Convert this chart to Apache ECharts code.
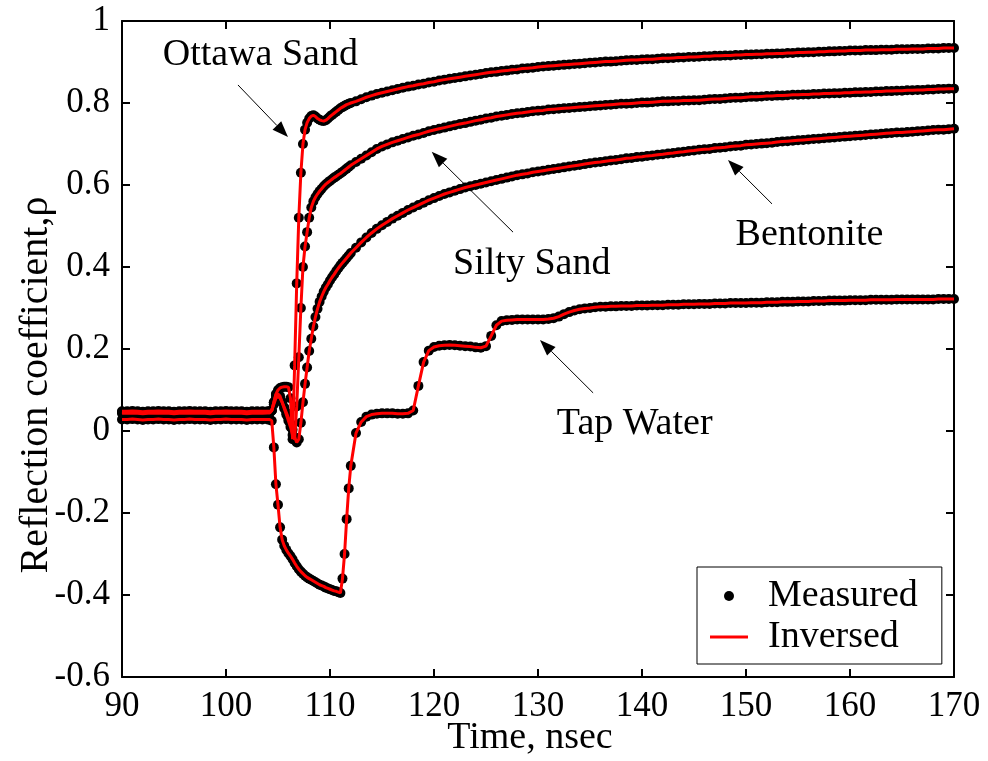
<!DOCTYPE html>
<html><head><meta charset="utf-8">
<script src="https://cdn.jsdelivr.net/npm/echarts@6/dist/echarts.min.js"></script>
<style>html,body{margin:0;padding:0;background:#fff}#c{width:988px;height:761px}</style>
</head><body><div id="c"></div>
<script>
// ---- sampling times (ns) ----
const timeA = [90,90.5,91,91.5,92,92.5,93,93.5,94,94.5,95,95.5,96,96.5,97,97.5,98,98.5,99,99.5,100,100.5,101,101.5,102,102.5,103,103.5,104];
const timeB = [104.2,104.4,104.6,104.8,105,105.2,105.4,105.6,105.8,106,
  106.2,106.4,106.6,106.8,107,107.2,107.4,107.6,107.8,108,
  108.2,108.4,108.6,108.8,109,109.2,109.4,109.6,109.8,110,
  110.2,110.4,110.6,110.8,111,111.2,111.4,111.6,111.8,112];
const timeC = [112.5,113,113.5,114,114.5,115,115.5,116,116.5,117,
  117.5,118,118.5,119,119.5,120,120.5,121,121.5,122,
  122.5,123,123.5,124,124.5,125,125.5,126,126.5,127,
  127.5,128,128.5,129,129.5,130,130.5,131,131.5,132,
  132.5,133,133.5,134,134.5,135,135.5,136,136.5,137,
  137.5,138,138.5,139,139.5,140,140.5,141,141.5,142,
  142.5,143,143.5,144,144.5,145,145.5,146,146.5,147,
  147.5,148,148.5,149,149.5,150,150.5,151,151.5,152,
  152.5,153,153.5,154,154.5,155,155.5,156,156.5,157,
  157.5,158,158.5,159,159.5,160,160.5,161,161.5,162,
  162.5,163,163.5,164,164.5,165,165.5,166,166.5,167,
  167.5,168,168.5,169,169.5,170];
const time = timeA.concat(timeB, timeC);

// ---- reflection coefficient values ----
const ottawaSand = [
  0.048,0.048,0.049,0.048,0.047,0.048,0.048,0.049,0.048,0.048,
  0.047,0.048,0.048,0.049,0.048,0.048,0.048,0.047,0.048,0.048,
  0.049,0.048,0.048,0.048,0.047,0.048,0.048,0.048,0.048,
  0.048,0.050,0.070,0.090,0.100,0.105,0.107,0.108,0.108,0.107,
  0.080,-0.020,0.160,0.360,0.520,0.630,0.700,0.735,0.752,0.762,
  0.768,0.770,0.767,0.762,0.759,0.757,0.756,0.758,0.762,0.767,
  0.771,0.775,0.779,0.783,0.787,0.790,0.793,0.796,0.798,0.800,
  0.804,0.809,0.814,0.818,0.822,0.825,0.828,0.831,0.834,0.837,
  0.840,0.842,0.845,0.847,0.850,0.852,0.855,0.857,0.859,0.861,
  0.863,0.865,0.867,0.869,0.871,0.873,0.875,0.876,0.878,0.879,
  0.881,0.882,0.884,0.885,0.886,0.888,0.889,0.890,0.891,0.892,
  0.893,0.894,0.895,0.896,0.897,0.898,0.899,0.900,0.901,0.901,
  0.902,0.903,0.904,0.905,0.905,0.906,0.907,0.907,0.908,0.909,
  0.909,0.910,0.911,0.911,0.912,0.912,0.913,0.914,0.914,0.915,
  0.915,0.916,0.916,0.917,0.917,0.918,0.918,0.919,0.919,0.920,
  0.920,0.921,0.921,0.922,0.922,0.923,0.923,0.924,0.924,0.925,
  0.925,0.926,0.926,0.927,0.927,0.928,0.928,0.928,0.929,0.929,
  0.929,0.930,0.930,0.930,0.931,0.931,0.931,0.932,0.932,0.932,
  0.933,0.933,0.933,0.934,0.934,0.934];
const siltySand = [
  0.046,0.045,0.046,0.046,0.045,0.046,0.046,0.045,0.046,0.046,
  0.045,0.046,0.046,0.046,0.045,0.046,0.046,0.045,0.046,0.046,
  0.046,0.045,0.046,0.046,0.045,0.046,0.046,0.046,0.046,
  0.046,0.050,0.070,0.088,0.090,0.085,0.070,0.055,0.040,0.025,
  0.010,-0.010,-0.020,0.060,0.180,0.300,0.400,0.450,0.485,0.520,
  0.545,0.560,0.570,0.578,0.585,0.591,0.597,0.602,0.606,0.610,
  0.614,0.618,0.621,0.625,0.628,0.632,0.636,0.640,0.644,0.648,
  0.656,0.664,0.672,0.680,0.688,0.694,0.699,0.704,0.708,0.712,
  0.716,0.720,0.723,0.727,0.731,0.734,0.737,0.740,0.743,0.746,
  0.749,0.751,0.754,0.757,0.759,0.762,0.764,0.767,0.769,0.771,
  0.773,0.775,0.776,0.778,0.780,0.781,0.782,0.784,0.785,0.786,
  0.787,0.788,0.789,0.790,0.791,0.792,0.793,0.794,0.795,0.796,
  0.797,0.798,0.798,0.799,0.800,0.801,0.801,0.802,0.803,0.804,
  0.804,0.805,0.805,0.806,0.806,0.807,0.807,0.808,0.809,0.810,
  0.810,0.811,0.812,0.813,0.813,0.814,0.815,0.815,0.816,0.817,
  0.817,0.818,0.818,0.819,0.820,0.820,0.821,0.821,0.822,0.822,
  0.823,0.823,0.824,0.824,0.825,0.825,0.826,0.826,0.827,0.827,
  0.828,0.828,0.829,0.829,0.830,0.830,0.831,0.831,0.832,0.832,
  0.833,0.833,0.834,0.834,0.835,0.835];
const bentonite = [
  0.043,0.044,0.043,0.043,0.042,0.043,0.044,0.043,0.043,0.043,
  0.042,0.043,0.043,0.044,0.043,0.043,0.043,0.042,0.043,0.043,
  0.044,0.043,0.043,0.043,0.042,0.043,0.043,0.043,0.044,
  0.044,0.050,0.065,0.080,0.085,0.080,0.070,0.058,0.045,0.032,
  0.018,0.003,-0.015,-0.028,-0.020,0.020,0.070,0.115,0.155,0.195,
  0.225,0.255,0.278,0.298,0.315,0.328,0.340,0.350,0.358,0.367,
  0.375,0.382,0.390,0.397,0.404,0.410,0.416,0.422,0.428,0.434,
  0.447,0.460,0.472,0.483,0.493,0.502,0.510,0.518,0.525,0.532,
  0.539,0.545,0.551,0.557,0.563,0.568,0.573,0.578,0.582,0.586,
  0.590,0.594,0.597,0.600,0.603,0.606,0.609,0.612,0.615,0.618,
  0.621,0.624,0.626,0.628,0.631,0.633,0.635,0.637,0.639,0.641,
  0.643,0.645,0.647,0.649,0.651,0.653,0.655,0.656,0.658,0.660,
  0.661,0.663,0.665,0.666,0.668,0.669,0.671,0.672,0.674,0.675,
  0.677,0.678,0.680,0.681,0.683,0.684,0.686,0.687,0.688,0.690,
  0.691,0.692,0.694,0.695,0.696,0.698,0.699,0.700,0.701,0.702,
  0.703,0.705,0.706,0.707,0.708,0.709,0.710,0.711,0.712,0.713,
  0.714,0.715,0.716,0.717,0.718,0.719,0.720,0.721,0.722,0.723,
  0.724,0.725,0.726,0.727,0.728,0.728,0.729,0.730,0.731,0.732,
  0.733,0.734,0.735,0.735,0.736,0.737];
const tapWater = [
  0.028,0.028,0.029,0.028,0.027,0.028,0.028,0.029,0.028,0.028,
  0.027,0.028,0.028,0.029,0.028,0.028,0.028,0.027,0.028,0.028,
  0.029,0.028,0.028,0.028,0.027,0.028,0.028,0.028,0.028,
  0.028,0.025,-0.040,-0.130,-0.180,-0.235,-0.265,-0.280,-0.290,-0.298,
  -0.305,-0.313,-0.322,-0.330,-0.337,-0.343,-0.348,-0.353,-0.357,-0.360,
  -0.363,-0.366,-0.369,-0.372,-0.375,-0.377,-0.379,-0.382,-0.384,-0.386,
  -0.388,-0.390,-0.391,-0.393,-0.395,-0.360,-0.300,-0.215,-0.140,-0.085,
  -0.005,0.022,0.035,0.040,0.042,0.043,0.043,0.043,0.042,0.042,
  0.043,0.050,0.110,0.168,0.196,0.205,0.208,0.209,0.210,0.209,
  0.208,0.207,0.206,0.204,0.203,0.207,0.232,0.258,0.268,0.270,
  0.271,0.272,0.272,0.272,0.272,0.272,0.272,0.273,0.275,0.279,
  0.285,0.290,0.294,0.297,0.299,0.300,0.302,0.303,0.303,0.304,
  0.304,0.305,0.305,0.305,0.306,0.306,0.306,0.307,0.307,0.307,
  0.308,0.308,0.308,0.309,0.309,0.309,0.310,0.310,0.310,0.311,
  0.311,0.311,0.312,0.312,0.312,0.312,0.313,0.313,0.313,0.314,
  0.314,0.314,0.315,0.315,0.315,0.316,0.316,0.316,0.317,0.317,
  0.317,0.318,0.318,0.318,0.318,0.319,0.319,0.319,0.319,0.320,
  0.320,0.320,0.320,0.320,0.321,0.321,0.321,0.321,0.321,0.321,
  0.321,0.321,0.322,0.322,0.322,0.322];

// ---- annotation texts (data coordinates) ----
const annotations = [
  {text:'Ottawa Sand', at:[103.3, 0.917], tail:[101.15, 0.844], tip:[105.96, 0.717]},
  {text:'Silty Sand',  at:[129.4, 0.407], tail:[127.6, 0.485],  tip:[119.78, 0.681]},
  {text:'Bentonite',   at:[156.1, 0.479], tail:[152.5, 0.554],  tip:[148.27, 0.661]},
  {text:'Tap Water',   at:[139.3, 0.016], tail:[135.3, 0.093],  tip:[130.19, 0.222]}
];
const xTitle = 'Time, nsec';
const yTitle = 'Reflection coefficient,ρ';

const FONT = '"Liberation Serif","Times New Roman",serif';
const chart = echarts.init(document.getElementById('c'));
const pairs = vals => time.map((t, i) => [t, vals[i]]);
const curves = [ottawaSand, siltySand, bentonite, tapWater];
const series = [];
curves.forEach(v => series.push({
  type:'scatter', name:'Measured', data:pairs(v), symbol:'circle', symbolSize:10,
  itemStyle:{color:'#000', opacity:1}, z:2, silent:true
}));
curves.forEach(v => series.push({
  type:'line', name:'Inversed', data:pairs(v), showSymbol:false, symbol:'none',
  lineStyle:{color:'#ff0000', width:3}, itemStyle:{color:'#ff0000'}, z:3, silent:true
}));

const axisCommon = {
  axisLine:{show:true, onZero:false, lineStyle:{color:'#000', width:2}},
  axisTick:{show:true, inside:true, length:8, lineStyle:{color:'#000', width:2}},
  splitLine:{show:false}
};
const fmt = v => String(Math.round(v * 10) / 10);

chart.setOption({
  animation:false,
  backgroundColor:'#fff',
  grid:{left:122, right:34, top:21, bottom:84, containLabel:false},
  xAxis:[
    Object.assign({type:'value', min:90, max:170, interval:10, position:'bottom',
      axisLabel:{color:'#000', fontFamily:FONT, fontSize:35, margin:12, formatter:fmt}}, axisCommon),
    Object.assign({type:'value', min:90, max:170, interval:10, position:'top',
      axisLabel:{show:false}}, axisCommon)
  ],
  yAxis:[
    Object.assign({type:'value', min:-0.6, max:1, interval:0.2, position:'left',
      axisLabel:{color:'#000', fontFamily:FONT, fontSize:35, margin:12, formatter:fmt}}, axisCommon),
    Object.assign({type:'value', min:-0.6, max:1, interval:0.2, position:'right',
      axisLabel:{show:false}}, axisCommon)
  ],
  legend:{
    data:[
      {name:'Measured', icon:'circle', itemStyle:{color:'#000', opacity:1}},
      {name:'Inversed', icon:'path://M0,0H38V3H0Z', itemStyle:{color:'#ff0000'}}
    ],
    orient:'vertical', left:697, top:567,
    itemWidth:38, itemHeight:10, itemGap:3,
    padding:[10, 24, 8, 13],
    borderColor:'#000', borderWidth:1, backgroundColor:'#fff',
    selectedMode:false,
    textStyle:{fontFamily:FONT, fontSize:38, color:'#000', padding:[0,0,0,15]}
  },
  series:series
});

const P = p => chart.convertToPixel({seriesIndex:0}, p);
const graphics = [];
annotations.forEach(a => {
  const c = P(a.at), t = P(a.tail), h = P(a.tip);
  graphics.push({type:'text', x:c[0], y:c[1], silent:true,
    style:{text:a.text, font:'38px ' + FONT, fill:'#000', textAlign:'center', textVerticalAlign:'middle'}});
  const dx = h[0]-t[0], dy = h[1]-t[1], L = Math.hypot(dx, dy), ux = dx/L, uy = dy/L;
  const hl = 16, hw = 6, bx = h[0]-ux*hl, by = h[1]-uy*hl;
  graphics.push({type:'line', silent:true, shape:{x1:t[0], y1:t[1], x2:bx, y2:by}, style:{stroke:'#000', lineWidth:1}});
  graphics.push({type:'polygon', silent:true, shape:{points:[[h[0],h[1]],[bx-uy*hw, by+ux*hw],[bx+uy*hw, by-ux*hw]]}, style:{fill:'#000'}});
});
graphics.push({type:'text', x:530, y:738, silent:true,
  style:{text:xTitle, font:'38px ' + FONT, fill:'#000', textAlign:'center', textVerticalAlign:'middle'}});
graphics.push({type:'text', x:36, y:385, rotation:Math.PI/2, silent:true,
  style:{text:yTitle, font:'40px ' + FONT, fill:'#000', textAlign:'center', textVerticalAlign:'middle'}});
chart.setOption({graphic:graphics});
</script>
</body></html>
